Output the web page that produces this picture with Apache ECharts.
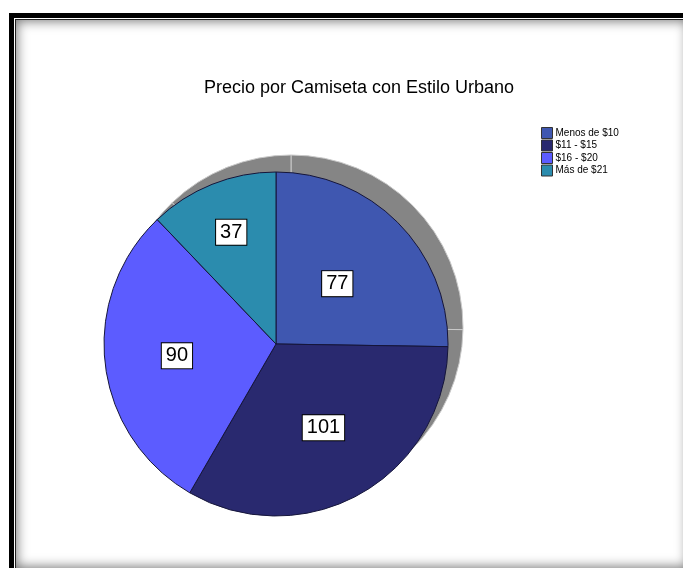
<!DOCTYPE html>
<html>
<head>
<meta charset="utf-8">
<title>Precio por Camiseta con Estilo Urbano</title>
<script src="https://cdn.jsdelivr.net/npm/echarts@6/dist/echarts.min.js"></script>
<style>
  html, body { margin: 0; padding: 0; background: #fff; overflow: hidden; }
  #frame {
    position: absolute; left: 9px; top: 13px; width: 676px; height: 552px;
    border: 5px solid #000;
    box-shadow: inset 0 0 0 1px #fff, inset 0 0 0 2px #222, inset 0 0 12px 3px rgba(0,0,0,0.55);
    background: #fff;
  }
  #chart { position: absolute; left: 0; top: 0; width: 683px; height: 568px; }
</style>
</head>
<body>
<div id="frame"></div>
<div id="chart"></div>
<script>
// Price ranges and number of respondents in each
const categories = ['Menos de $10', '$11 - $15', '$16 - $20', 'Más de $21'];
const counts = [77, 101, 90, 37];
const sliceColors = ['#3f57b0', '#29296f', '#5c5cff', '#2b8cae'];
// how far out (as a share of the radius) each value label sits
const labelRadiusRatio = [0.5, 0.56, 0.58, 0.7];

const PIE_CENTER = [276, 344];
const PIE_RADIUS = 172;

const pieData = categories.map((name, i) => ({
  name: name,
  value: counts[i],
  itemStyle: { color: sliceColors[i] }
}));

// mid angle of each slice, measured clockwise from 12 o'clock
const total = counts.reduce((a, b) => a + b, 0);
const midAngles = [];
let acc = 0;
counts.forEach(v => {
  midAngles.push((acc + v / 2) / total * Math.PI * 2);
  acc += v;
});

const chart = echarts.init(document.getElementById('chart'), null, { renderer: 'canvas' });
chart.setOption({
  animation: false,
  backgroundColor: 'transparent',
  title: {
    text: 'Precio por Camiseta con Estilo Urbano',
    left: 354,
    top: 74,
    textAlign: 'center',
    textStyle: {
      fontFamily: 'Liberation Sans, Arial, sans-serif',
      fontSize: 18,
      fontWeight: 'normal',
      color: '#000'
    }
  },
  legend: {
    orient: 'vertical',
    left: 541,
    top: 127,
    padding: 0,
    icon: 'rect',
    itemWidth: 11,
    itemHeight: 11,
    itemGap: 0.5,
    selectedMode: false,
    data: categories,
    itemStyle: { borderColor: '#333', borderWidth: 1 },
    textStyle: {
      fontFamily: 'Liberation Sans, Arial, sans-serif',
      fontSize: 10,
      lineHeight: 11,
      color: '#000',
      padding: [0, 0, 0, -2]
    }
  },
  series: [
    {
      // main pie
      type: 'pie',
      z: 3,
      center: PIE_CENTER,
      radius: PIE_RADIUS,
      startAngle: 90,
      clockwise: true,
      silent: true,
      data: pieData,
      itemStyle: { borderColor: '#15153a', borderWidth: 1 },
      label: {
        show: true,
        position: 'inside',
        formatter: '{c}',
        fontFamily: 'Liberation Sans, Arial, sans-serif',
        fontSize: 20,
        color: '#000',
        backgroundColor: '#fff',
        borderColor: '#000',
        borderWidth: 1,
        padding: [3, 4, 2, 4]
      },
      labelLayout: function (params) {
        const i = params.dataIndex;
        const r = PIE_RADIUS * labelRadiusRatio[i];
        return {
          x: PIE_CENTER[0] + Math.sin(midAngles[i]) * r,
          y: PIE_CENTER[1] - Math.cos(midAngles[i]) * r,
          align: 'center',
          verticalAlign: 'middle'
        };
      },
      labelLine: { show: false },
      emphasis: { disabled: true }
    },
    {
      // drop shadow behind the pie, offset up and to the right
      type: 'pie',
      z: 1,
      center: [291, 327],
      radius: PIE_RADIUS,
      startAngle: 90,
      clockwise: true,
      silent: true,
      data: categories.map((name, i) => ({ name: name, value: counts[i] })),
      itemStyle: { color: '#858585', borderColor: '#c9c9c9', borderWidth: 1 },
      label: { show: false },
      labelLine: { show: false },
      emphasis: { disabled: true }
    }
  ]
});
</script>
</body>
</html>
